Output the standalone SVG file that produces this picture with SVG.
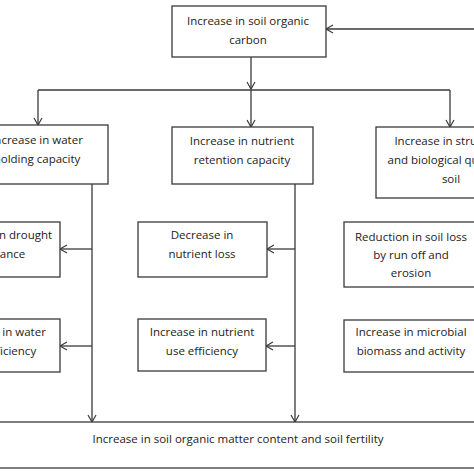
<svg xmlns="http://www.w3.org/2000/svg" width="474" height="474" viewBox="0 0 474 474">
<style>
.box{fill:#fff;stroke:#3a3a3a;stroke-width:1.3}
.t{font-family:"Open Sans","Liberation Sans",sans-serif;font-size:11.5px;fill:#222;text-anchor:middle}
.c{fill:none;stroke:#3a3a3a;stroke-width:1.3}
.a{marker-end:url(#arr)}
</style>
<defs>
<marker id="arr" markerWidth="10" markerHeight="10" refX="8" refY="4.5" orient="auto" markerUnits="userSpaceOnUse">
<path d="M1,0.5 L8,4.5 L1,8.5" fill="none" stroke="#3a3a3a" stroke-width="1.2"/>
</marker>
</defs>
<rect width="474" height="474" fill="#fff"/>
<g id="connectors">
<line class="c a" x1="480" y1="29" x2="326" y2="29"/>
<line class="c a" x1="251" y1="57" x2="251" y2="89"/>
<line class="c" x1="38" y1="90" x2="450" y2="90"/>
<line class="c a" x1="38" y1="90" x2="38" y2="125"/>
<line class="c a" x1="251" y1="90" x2="251" y2="127"/>
<line class="c a" x1="450" y1="90" x2="450" y2="127"/>
<line class="c a" x1="92" y1="184" x2="92" y2="422"/>
<line class="c a" x1="92" y1="249" x2="60" y2="249"/>
<line class="c a" x1="92" y1="346" x2="60" y2="346"/>
<line class="c a" x1="295" y1="184" x2="295" y2="422"/>
<line class="c a" x1="295" y1="249" x2="267" y2="249"/>
<line class="c a" x1="295" y1="346" x2="266" y2="346"/>
</g>
<g id="n-top">
<rect class="box" x="172" y="6" width="154" height="51"/>
<text class="t" x="248" y="25">Increase in soil organic</text>
<text class="t" x="248" y="44">carbon</text>
</g>
<g id="n-water">
<rect class="box" x="-32" y="125" width="140" height="59"/>
<text class="t" x="37" y="144">Increase in water</text>
<text class="t" x="37" y="163">holding capacity</text>
</g>
<g id="n-nutrient">
<rect class="box" x="172" y="127" width="141" height="57"/>
<text class="t" x="242" y="145">Increase in nutrient</text>
<text class="t" x="242" y="164">retention capacity</text>
</g>
<g id="n-structure">
<rect class="box" x="376" y="127" width="150" height="71"/>
<text class="t" x="451" y="145">Increase in structural</text>
<text class="t" x="451" y="164">and biological quality of</text>
<text class="t" x="451" y="183">soil</text>
</g>
<g id="n-drought">
<rect class="box" x="-60" y="222" width="120" height="55"/>
<text class="t" x="0" y="239">Increase in drought</text>
<text class="t" x="0" y="258">tolerance</text>
</g>
<g id="n-wue">
<rect class="box" x="-60" y="319" width="120" height="53"/>
<text class="t" x="0" y="336">Increase in water</text>
<text class="t" x="0" y="355">use efficiency</text>
</g>
<g id="n-loss">
<rect class="box" x="138" y="222" width="129" height="55"/>
<text class="t" x="202" y="239">Decrease in</text>
<text class="t" x="202" y="258">nutrient loss</text>
</g>
<g id="n-nue">
<rect class="box" x="138" y="319" width="128" height="52"/>
<text class="t" x="202" y="336">Increase in nutrient</text>
<text class="t" x="202" y="355">use efficiency</text>
</g>
<g id="n-erosion">
<rect class="box" x="344" y="222" width="134" height="65"/>
<text class="t" x="411" y="241">Reduction in soil loss</text>
<text class="t" x="411" y="259">by run off and</text>
<text class="t" x="411" y="277">erosion</text>
</g>
<g id="n-microbial">
<rect class="box" x="344" y="320" width="134" height="52"/>
<text class="t" x="411" y="336">Increase in microbial</text>
<text class="t" x="411" y="355">biomass and activity</text>
</g>
<g id="n-bottom">
<rect class="box" x="-10" y="422" width="494" height="46"/>
<text class="t" x="238" y="443">Increase in soil organic matter content and soil fertility</text>
</g>
</svg>
